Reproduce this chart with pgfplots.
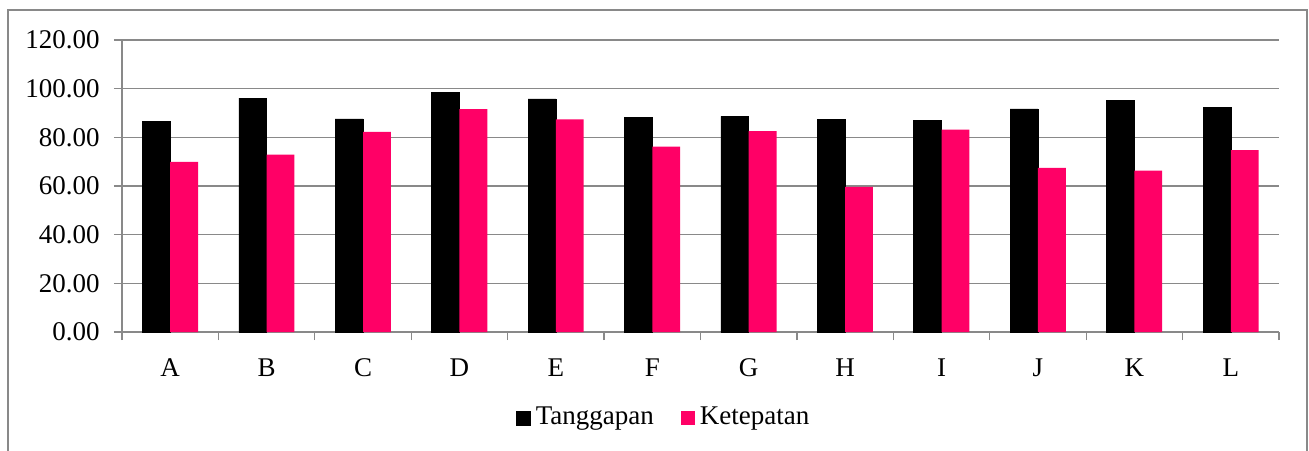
\documentclass[border=0pt]{standalone}
\usepackage{pgfplots}
\pgfplotsset{compat=1.18}
\usepackage{fontspec}
\setmainfont{Liberation Serif}
\definecolor{pinkbar}{HTML}{FF0066}
\definecolor{gridgray}{HTML}{898989}
\begin{document}
\fontsize{13.5}{15.5}\selectfont
\begin{tikzpicture}
\clip (-61pt,-59pt) rectangle (593.5pt,166pt);
\draw[gridgray, line width=0.75pt] (-57pt,-80pt) rectangle (592.5pt,161pt);
\begin{axis}[
  at={(0pt,0pt)}, anchor=south west,
  width=578.5pt, height=146pt, scale only axis,
  ybar=0pt, bar width=13.9pt,
  xmin=-0.5, xmax=11.5, ymin=0, ymax=120,
  axis lines*=left,
  axis line style={gridgray, line width=0.6pt},
  tick style={gridgray, line width=0.6pt},
  tick align=outside, major tick length=4pt,
  xtick={-0.5,0.5,1.5,2.5,3.5,4.5,5.5,6.5,7.5,8.5,9.5,10.5,11.5},
  xticklabels={A,B,C,D,E,F,G,H,I,J,K,L,{}},
  xticklabel style={xshift=24.1pt, yshift=-4.8pt},
  ytick={0,20,...,120},
  yticklabel style={xshift=-2.5pt, /pgf/number format/.cd, fixed, fixed zerofill, precision=2, assume math mode=true},
  ymajorgrids, grid style={gridgray, line width=0.6pt},
  legend style={at={(0.4695,-0.2945)}, anchor=center, draw=none, fill=none,
    legend columns=2, /tikz/every even column/.append style={column sep=11pt},
    nodes={inner sep=2.5pt}},
  legend image code/.code={\fill[#1] (0pt,-3.5pt) rectangle (7pt,3.5pt);},
]
\addplot[fill=black, draw=black, line width=0.3pt] coordinates {
(0,86.4) (1,96.1) (2,87.6) (3,98.6) (4,95.8) (5,88.3)
(6,88.6) (7,87.5) (8,86.8) (9,91.7) (10,95.3) (11,92.2)};
\addplot[fill=pinkbar, draw=none] coordinates {
(0,69.9) (1,72.9) (2,82.2) (3,91.6) (4,87.4) (5,76.2)
(6,82.6) (7,59.6) (8,83.2) (9,67.5) (10,66.3) (11,74.7)};
\legend{Tanggapan,Ketepatan}
\end{axis}
\end{tikzpicture}
\end{document}
